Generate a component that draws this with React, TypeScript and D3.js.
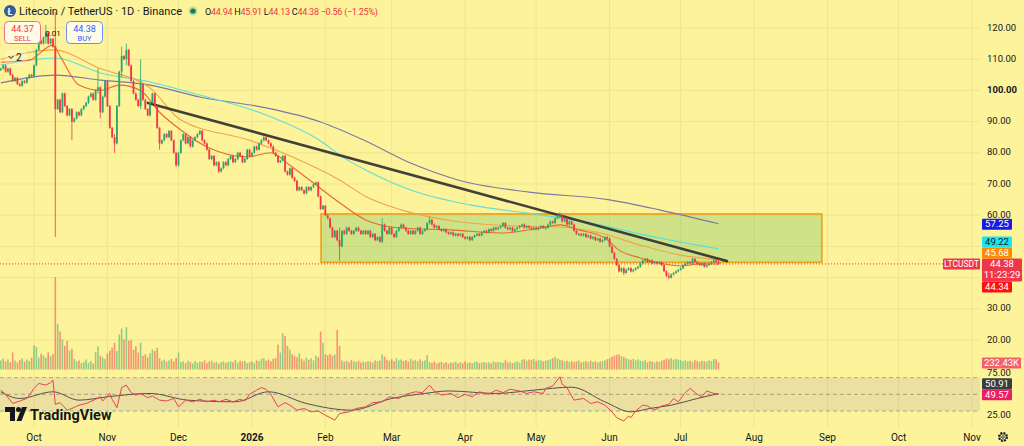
import * as React from 'react'
import * as d3 from 'd3'

// daily candles, first bar = 2025-09-17
const START = Date.UTC(2025, 8, 17)
const DAY = 86400000
const FIRST_OPEN = 106.5

const closes = [
    107, 108, 106, 107, 105, 103, 104, 102, 101.5, 103,
    102.5, 104, 105, 104.5, 108, 113, 116, 115, 117, 118.5,
    115, 116.5, 114, 94, 97, 93, 99, 95, 92, 94,
    90, 91, 93, 92, 94, 95, 96, 98, 99, 97,
    100, 101, 93, 98, 103, 95, 88, 85, 83, 95,
    106, 111, 110, 113, 108, 103, 99, 97, 95, 102,
    97, 94, 92, 96, 99, 95, 88, 83, 84, 86,
    85, 87, 84, 80, 76, 80, 84, 86, 83, 85,
    82, 84, 85, 86, 87, 84, 83, 81, 78, 79,
    76, 77, 74, 75, 77, 76, 78, 79, 77, 78,
    80, 79, 77, 78, 81, 79, 80, 82, 81, 83,
    84, 85, 84, 83, 82, 80, 79, 77, 77.5, 79,
    74, 73, 75, 72, 71, 68, 69, 68, 67, 69,
    68, 69, 70, 70.5, 66, 62, 63, 60, 59, 56,
    53, 55, 52, 50, 55, 54, 56, 55, 54, 55,
    56, 55, 54, 55, 54, 55, 53, 54, 52, 53,
    51.5, 57, 55, 54, 56, 54, 53, 55, 56, 57,
    56, 55, 54, 55, 54, 55, 56, 54, 55, 55.5,
    57.5, 58.5, 57, 56, 56.5, 55.5, 55, 55.5, 54.5, 54,
    54.5, 53.5, 54, 53.5, 54, 53, 52.5, 53, 52, 53,
    53.5, 54, 53.5, 54.5, 55, 54.5, 55.5, 55, 56, 55.5,
    56, 56.5, 57.5, 56, 55.5, 56, 55, 55.5, 56, 56.5,
    57, 56, 56.5, 56, 55.5, 56, 55.5, 56, 56.5, 56,
    56, 57, 58, 57.5, 59, 60, 60, 58, 59, 57,
    58, 57, 55, 54, 54, 53.5, 54, 53, 53.5, 52.5,
    53, 52, 52.5, 51.5, 52, 53, 52.5, 50, 48, 46,
    44, 42, 43, 41.5, 42.5, 43, 42, 42.5, 43, 43.5,
    44.5, 45.5, 46, 45, 45.5, 44.5, 45, 44.5, 45, 44,
    42, 40.5, 40, 41, 41.5, 42, 42.5, 43, 44, 44.5,
    45, 44.5, 46, 45, 44.5, 44, 44.5, 43.5, 44, 44.5,
    45, 45.5, 44.94, 44.38,
]

// [bar, high, low] for the candles with visible long wicks
const wicks: [number, number, number][] = [
    [19, 121, 115], [23, 125, 53], [30, 91, 84], [41, 107, 99], [42, 101, 91],
    [48, 86, 80], [51, 114, 104], [53, 115, 108], [59, 110, 94], [67, 88, 81],
    [74, 80, 75.5], [92, 77, 73.5], [143, 56, 45.5], [161, 59, 51], [181, 59.5, 57],
    [236, 61, 59], [263, 43, 40.8], [282, 41.5, 39.5], [303, 45.91, 44.13],
]

// volume in K
const volumes = [
    300, 360, 260, 330, 240, 560, 290, 230, 310, 360, 250, 330, 280, 390,
    800, 740,
    390, 520, 460, 390, 560, 440, 510,
    3050,
    1500, 1250, 1000, 780, 950, 620, 680,
    350, 270, 300, 210, 250, 330, 220, 280, 200,
    580, 760,
    450, 400, 350, 520,
    620, 720, 880, 610,
    1150, 1350, 1000, 1400, 950,
    980, 660, 770, 560, 880,
    450, 500, 400, 530,
    660, 610, 710,
    370, 290, 330, 260, 300, 350, 270, 380, 560,
    240, 270, 210, 290, 250, 200, 280, 220, 260, 240, 300, 210, 270, 290, 220, 250, 190, 240, 270, 210, 250,
    270, 240, 310, 220, 290, 260, 280, 210,
    240, 270, 220, 300, 280, 350, 380,
    290, 330, 270, 350, 380,
    820, 560, 1200, 1100, 780, 660,
    500, 450, 400, 530,
    350, 290, 390, 320, 370, 300, 450, 400,
    1250, 880,
    500, 470, 510, 460, 490,
    1300, 780,
    300, 260, 290, 240, 310, 270, 250, 290, 230, 260,
    240, 280, 260, 230, 300, 270, 290,
    500, 420,
    320, 290, 340, 270, 370, 300, 330, 280, 310, 260, 350, 290, 320, 270, 340, 280, 300, 470,
    240, 220, 260, 200, 230, 250, 210, 240, 190, 230, 220, 250, 200, 240, 210,
    270, 220, 230, 200, 240, 260, 210, 230, 250, 220, 240, 200, 270, 230, 250,
    240, 220, 300, 230, 250, 210, 240, 270, 230,
    320, 340, 290, 330, 310, 350, 280, 320, 300, 270,
    290, 310, 340, 370, 420, 360, 330, 300, 270, 290, 250, 280, 240, 270, 300, 230, 260, 280, 240, 290, 250, 270, 230, 260, 280, 300,
    340, 370, 420, 460,
    490, 500, 440, 420,
    370, 340, 320, 350, 300, 330,
    290, 270, 310, 240, 280, 260, 230, 270, 250, 290, 320,
    360, 340, 370, 320, 350, 330, 310,
    280, 300, 270, 290, 260, 310, 280, 250, 290, 270, 260, 300, 280,
    350, 340, 232.43,
]

// moving averages: [bar, price]
const ema20: [number, number][] = [
    [0, 109], [12, 109.7], [22, 114.5], [25, 111], [33, 101.7], [42, 100], [50, 101.7], [59, 100],
    [67, 93], [76, 87.3], [88, 81.5], [104, 78.7], [114, 80], [122, 76], [132, 70.3], [143, 64],
    [154, 58.5], [169, 55.9], [190, 55.3], [211, 54.3], [228, 55.9], [236, 56.9], [244, 55.3],
    [255, 52.7], [261, 48.8], [270, 46.3], [278, 44.7], [287, 43.7], [295, 44.4], [303, 44.34],
]
const ema50: [number, number][] = [
    [0, 110], [22, 113], [42, 107], [63, 100.8], [76, 90.5], [105, 84], [126, 77.7], [143, 71.3],
    [154, 66], [169, 61.7], [194, 57.8], [219, 56.5], [236, 56.2], [253, 54.3], [270, 50.4],
    [287, 47.2], [303, 45.68],
]
const ema100: [number, number][] = [
    [0, 108.1], [23, 110.4], [42, 105.6], [63, 102.7], [84, 98.5], [112, 92.1], [135, 83.8],
    [145, 78.3], [154, 74.5], [173, 68.1], [198, 63.3], [225, 60.4], [253, 56.9], [274, 53.3],
    [303, 49.22],
]
const ema200: [number, number][] = [
    [0, 102.4], [23, 104.9], [42, 103.3], [63, 101.7], [84, 97.9], [112, 94.4], [135, 89.9],
    [154, 83.8], [173, 76.7], [193, 71.3], [223, 67.4], [257, 64.9], [278, 61.7], [303, 57.25],
]

const trendLine: [number, number][] = [[62.1, 96], [306.5, 45.3]]
const rangeBox = { from: 135.2, to: 346.6, top: 60.4, bottom: 44.9 }

const rsi: [number, number][] = [
    [0, 55], [2, 50], [5, 39], [8, 42], [11, 45], [14, 57], [16, 63], [19, 61], [21, 64], [22, 67],
    [23, 38], [25, 40], [28, 31], [30, 33], [33, 37], [36, 39], [40, 44], [42, 47], [43, 42], [46, 51],
    [47, 44], [49, 34], [51, 58], [53, 61], [55, 52], [57, 49], [59, 51], [62, 46], [64, 48], [67, 43],
    [70, 42], [73, 45], [75, 35], [78, 43], [81, 41], [84, 44], [87, 41], [90, 43], [92, 41], [95, 44],
    [98, 41], [101, 44], [103, 42], [105, 50], [108, 55], [110, 58], [112, 56], [114, 50], [117, 35],
    [120, 40], [122, 37], [125, 31], [128, 33], [131, 29], [134, 30], [137, 25], [139, 22], [141, 19],
    [143, 27], [147, 29], [150, 33], [154, 35], [157, 40], [161, 41], [164, 47], [168, 45], [171, 50],
    [175, 53], [178, 52], [181, 61], [183, 54], [186, 49], [190, 51], [193, 46], [196, 50], [199, 47],
    [202, 53], [206, 50], [209, 55], [212, 52], [215, 56], [219, 54], [222, 51], [225, 53], [229, 51],
    [230, 57], [233, 60], [236, 71], [237, 62], [239, 58], [242, 43], [246, 45], [249, 39], [252, 41],
    [255, 37], [258, 29], [260, 22], [263, 18], [265, 24], [266, 22], [268, 30], [271, 37], [273, 36],
    [276, 31], [279, 36], [282, 38], [284, 45], [286, 41], [289, 52], [291, 57], [294, 50], [296, 47],
    [298, 54], [300, 52], [303, 49.57],
]
const rsiMa: [number, number][] = [
    [0, 52.8], [8, 45], [22, 53], [33, 43], [45, 47], [63, 51], [79, 43], [99, 41], [113, 53],
    [129, 39], [148, 31], [165, 45], [179, 51], [189, 54], [209, 51], [225, 55], [241, 58.5],
    [255, 41], [266, 29], [274, 33], [283, 37], [294, 45], [303, 50.91],
]

const FONT = 'Roboto, "Liberation Sans", sans-serif'
const BG = '#fcf39b'
const GRID = '#f0e58c'
const UP = '#2aa56e'
const DOWN = '#f23645'
const TEXT = '#131722'

interface Tag { value: number, label: string, bg: string, fg?: string, h?: number, sub?: string, w?: number }

// stack tags so they do not overlap, like the price scale does
function stackTags(tags: Tag[], scale: (v: number) => number, anchor: Tag) {
    const out: { tag: Tag, top: number }[] = []
    const ah = anchor.h || 11
    const aTop = scale(anchor.value) - 5.5
    out.push({ tag: anchor, top: aTop })
    let limit = aTop
    tags.filter(t => t.value > anchor.value).sort((a, b) => a.value - b.value).forEach(t => {
        const h = t.h || 11
        let top = scale(t.value) - h / 2 + 0.5
        if (top + h > limit) top = limit - h
        out.push({ tag: t, top })
        limit = top
    })
    limit = aTop + ah
    tags.filter(t => t.value < anchor.value).sort((a, b) => b.value - a.value).forEach(t => {
        const h = t.h || 11
        let top = scale(t.value) - h / 2
        if (top < limit) top = limit
        out.push({ tag: t, top })
        limit = top + h
    })
    return out
}

export default function App() {
    const W = 1024
    const H = 446
    const PLOT_R = 980
    const AXIS_X = 987

    const x = d3.scaleUtc()
        .domain([new Date(Date.UTC(2025, 9, 1)), new Date(Date.UTC(2026, 10, 1))])
        .range([34, 972])
    const xi = (i: number) => x(new Date(START + i * DAY))
    const y = d3.scaleLinear().domain([20, 120]).range([340, 28])
    const yVol = d3.scaleLinear().domain([0, 3050]).range([369.5, 277])
    const yRsi = d3.scaleLinear().domain([30, 70]).range([411, 377.6])

    const wickMap = new Map(wicks.map(w => [w[0], w]))
    const candles = closes.map((c, i) => {
        const o = i === 0 ? FIRST_OPEN : closes[i - 1]
        const w = wickMap.get(i)
        return { i, o, c, h: w ? w[1] : Math.max(o, c), l: w ? w[2] : Math.min(o, c) }
    })

    const maLine = d3.line<[number, number]>().x(d => xi(d[0])).y(d => y(d[1])).curve(d3.curveMonotoneX)
    const rsiLine = d3.line<[number, number]>().x(d => xi(d[0])).y(d => yRsi(d[1]))
    const rsiMaLine = d3.line<[number, number]>().x(d => xi(d[0])).y(d => yRsi(d[1])).curve(d3.curveMonotoneX)

    const months = x.ticks(d3.utcMonth.every(1) as any)
    const priceTicks = d3.range(20, 121, 10)

    const last = candles[candles.length - 1]
    const priceTags = stackTags([
        { value: 57.25, label: '57.25', bg: '#1a1ae6' },
        { value: 49.22, label: '49.22', bg: '#19e6f2', fg: TEXT },
        { value: 45.68, label: '45.68', bg: '#ff8a00' },
        { value: 44.34, label: '44.34', bg: '#ff1010' },
    ], y, { value: last.c, label: last.c.toFixed(2), sub: '11:23:29', bg: '#f0364a', h: 23, w: 40 })
    const rsiTags = stackTags([
        { value: 50.91, label: '50.91', bg: '#3c3c3c' },
    ], yRsi, { value: 49.57, label: '49.57', bg: '#e91e63' })
    const volTag = { value: volumes[volumes.length - 1], label: '232.43K', bg: '#f2616b' }

    const allTagBoxes = [...priceTags, ...rsiTags].map(t => [t.top, t.top + (t.tag.h || 11)])
    const hidden = (yy: number) => allTagBoxes.some(([a, b]) => yy + 3 > a && yy - 3 < b)

    const drawTag = (t: { tag: Tag, top: number }, key: string) => {
        const h = t.tag.h || 11
        const w = t.tag.w || 30
        return <g key={key}>
            <rect x={982} y={t.top} width={w} height={h} fill={t.tag.bg} rx={1} />
            <text x={982 + w / 2} y={t.top + 8.5} textAnchor="middle" fontSize={9.5} fill={t.tag.fg || '#fff'}>{t.tag.label}</text>
            {t.tag.sub && <text x={982 + w / 2} y={t.top + 19.5} textAnchor="middle" fontSize={9.5} fill="#fff">{t.tag.sub}</text>}
        </g>
    }

    const bw = 1.8

    return <svg width={W} height={H} viewBox={`0 0 ${W} ${H}`}
        style={{ position: 'absolute', left: 0, top: 0, fontFamily: FONT }}>
        <rect width={W} height={H} fill={BG} />

        {/* grid */}
        <g>
            {months.map((m, i) =>
                <line key={i} x1={x(m)} x2={x(m)} y1={0} y2={428} stroke={GRID} strokeWidth={1} />
            )}
            {priceTicks.map(p =>
                <line key={p} x1={0} x2={PLOT_R} y1={y(p)} y2={y(p)} stroke={GRID} strokeWidth={1} />
            )}
        </g>

        {/* RSI background band */}
        <rect x={0} width={PLOT_R} y={yRsi(70)} height={yRsi(30) - yRsi(70)} fill="rgba(126,87,194,0.12)" />
        <line x1={0} x2={PLOT_R} y1={yRsi(70)} y2={yRsi(70)} stroke="#86b98f" strokeDasharray="4 3" />
        <line x1={0} x2={PLOT_R} y1={yRsi(50)} y2={yRsi(50)} stroke="#a89f84" strokeDasharray="4 3" />
        <line x1={0} x2={PLOT_R} y1={yRsi(30)} y2={yRsi(30)} stroke="#86b98f" strokeDasharray="4 3" />

        {/* volume */}
        <g>
            {volumes.map((v, i) => {
                const c = candles[i]
                if (!c) return null
                return <rect key={i} x={xi(i) - 0.8} width={1.6} y={yVol(v)} height={yVol(0) - yVol(v)}
                    fill={c.c >= c.o ? 'rgba(42,165,110,0.5)' : 'rgba(242,54,69,0.5)'} />
            })}
        </g>

        {/* range box */}
        <rect x={xi(rangeBox.from)} width={xi(rangeBox.to) - xi(rangeBox.from)}
            y={y(rangeBox.top)} height={y(rangeBox.bottom) - y(rangeBox.top)}
            fill="rgba(76,175,80,0.25)" stroke="#f0a020" strokeWidth={1.7} />

        {/* moving averages */}
        <path d={maLine(ema200) || ''} fill="none" stroke="#7d78a6" strokeWidth={1.1} />
        <path d={maLine(ema100) || ''} fill="none" stroke="#5ee0d2" strokeWidth={1.1} />
        <path d={maLine(ema50) || ''} fill="none" stroke="#f3a34a" strokeWidth={1.1} />
        <path d={maLine(ema20) || ''} fill="none" stroke="#e8692e" strokeWidth={1.1} />

        {/* trend line */}
        <line x1={xi(trendLine[0][0])} y1={y(trendLine[0][1])} x2={xi(trendLine[1][0])} y2={y(trendLine[1][1])}
            stroke="#2e2e2e" strokeWidth={2.6} strokeLinecap="round" opacity={0.9} />

        {/* candles */}
        <g>
            {candles.map(c => {
                const col = c.c >= c.o ? UP : DOWN
                const cx = xi(c.i)
                const bTop = y(Math.max(c.o, c.c))
                const bBot = y(Math.min(c.o, c.c))
                const bh = Math.max(1, bBot - bTop)
                return <g key={c.i}>
                    <line x1={cx} x2={cx} y1={Math.min(y(c.h), bTop - 1)} y2={Math.max(y(c.l), bTop + bh + 1)}
                        stroke={col} strokeWidth={0.8} />
                    <rect x={cx - bw / 2} width={bw} y={bTop} height={bh} fill={col} />
                </g>
            })}
        </g>

        {/* last price line */}
        <line x1={0} x2={PLOT_R} y1={y(last.c)} y2={y(last.c)} stroke={DOWN} strokeWidth={1} strokeDasharray="1 2" />

        {/* RSI */}
        <path d={rsiMaLine(rsiMa) || ''} fill="none" stroke="#555049" strokeWidth={1} />
        <path d={rsiLine(rsi) || ''} fill="none" stroke="#e8434f" strokeWidth={1} />

        {/* price axis */}
        <g fontSize={9.5} fill={TEXT}>
            {priceTicks.filter(p => !hidden(y(p))).map(p =>
                <text key={p} x={AXIS_X} y={y(p) + 2.5} fontWeight={p === 100 ? 'bold' : 'normal'}>{p.toFixed(2)}</text>
            )}
            {[75, 25].filter(r => !hidden(yRsi(r))).map(r =>
                <text key={r} x={AXIS_X} y={yRsi(r) + 3}>{r.toFixed(2)}</text>
            )}
        </g>
        {priceTags.map((t, i) => drawTag(t, 'p' + i))}
        {rsiTags.map((t, i) => drawTag(t, 'r' + i))}
        {drawTag({ tag: { ...volTag, w: 39 }, top: yVol(volTag.value) - 5 }, 'vol')}
        <rect x={943} y={y(last.c) - 5.5} width={37} height={11} fill="#f0364a" rx={1} />
        <text x={961.5} y={y(last.c) + 3} textAnchor="middle" fontSize={8.5} fill="#fff">LTCUSDT</text>

        {/* time axis */}
        <g fontSize={10} fill={TEXT} textAnchor="middle">
            {months.map((m, i) =>
                <text key={i} x={x(m)} y={441} fontWeight={m.getUTCMonth() === 0 ? 'bold' : 'normal'}>
                    {m.getUTCMonth() === 0 ? d3.utcFormat('%Y')(m) : d3.utcFormat('%b')(m)}
                </text>
            )}
        </g>
        <g transform="translate(1003 437)">
            <circle r={4.2} fill="none" stroke={TEXT} strokeWidth={1.6} strokeDasharray="2 1.3" />
            <circle r={3.2} fill="none" stroke={TEXT} strokeWidth={0.8} />
            <circle r={1.3} fill="none" stroke={TEXT} strokeWidth={0.8} />
        </g>

        {/* header */}
        <circle cx={10} cy={11} r={6} fill="#345d9d" />
        <text x={10} y={14.5} textAnchor="middle" fontSize={9} fontWeight="bold" fill="#fff">Ł</text>
        <text x={19} y={15} fontSize={11} textLength={163} lengthAdjust="spacingAndGlyphs" fill={TEXT}>Litecoin / TetherUS · 1D · Binance</text>
        <circle cx={193} cy={11} r={4.5} fill="rgba(8,153,129,0.25)" />
        <circle cx={193} cy={11} r={2.6} fill="#0b7d5e" />
        <text x={205} y={15} fontSize={9} letterSpacing={-0.25} fill={DOWN}>
            <tspan fill={TEXT}>O</tspan>44.94 <tspan fill={TEXT}>H</tspan>45.91 <tspan fill={TEXT}>L</tspan>44.13 <tspan fill={TEXT}>C</tspan>44.38 −0.56 (−1.25%)
        </text>

        {/* sell / buy */}
        <rect x={4.5} y={21.5} width={36} height={22} rx={4} fill="#fffbe6" stroke="#f2707a" />
        <text x={22.5} y={32} textAnchor="middle" fontSize={9} fill={DOWN}>44.37</text>
        <text x={22.5} y={41} textAnchor="middle" fontSize={7.5} fill={DOWN}>SELL</text>
        <text x={53} y={36} textAnchor="middle" fontSize={8} fill={TEXT}>0.01</text>
        <rect x={66.5} y={21.5} width={36} height={22} rx={4} fill="#fffbe6" stroke="#6f8fe6" />
        <text x={84.5} y={32} textAnchor="middle" fontSize={9} fill="#2962ff">44.38</text>
        <text x={84.5} y={41} textAnchor="middle" fontSize={7.5} fill="#2962ff">BUY</text>
        <rect x={5} y={50} width={22} height={15} rx={3} fill="rgba(255,255,255,0.25)" />
        <path d="M8.5 56 l2.5 2.5 l2.5 -2.5" fill="none" stroke={TEXT} strokeWidth={1} />
        <text x={16} y={61} fontSize={10} fill={TEXT}>2</text>

        {/* logo */}
        <g fill={TEXT}>
            <path d="M5 407 h10 v14 h-5 v-9 h-5 z" />
            <circle cx={18.5} cy={409.6} r={2.5} />
            <path d="M16.5 421 l5.5 -14 h5 l-5.5 14 z" />
        </g>
        <text x={30} y={420} fontSize={14.5} fontWeight="bold" fill={TEXT}>TradingView</text>
    </svg>
}
